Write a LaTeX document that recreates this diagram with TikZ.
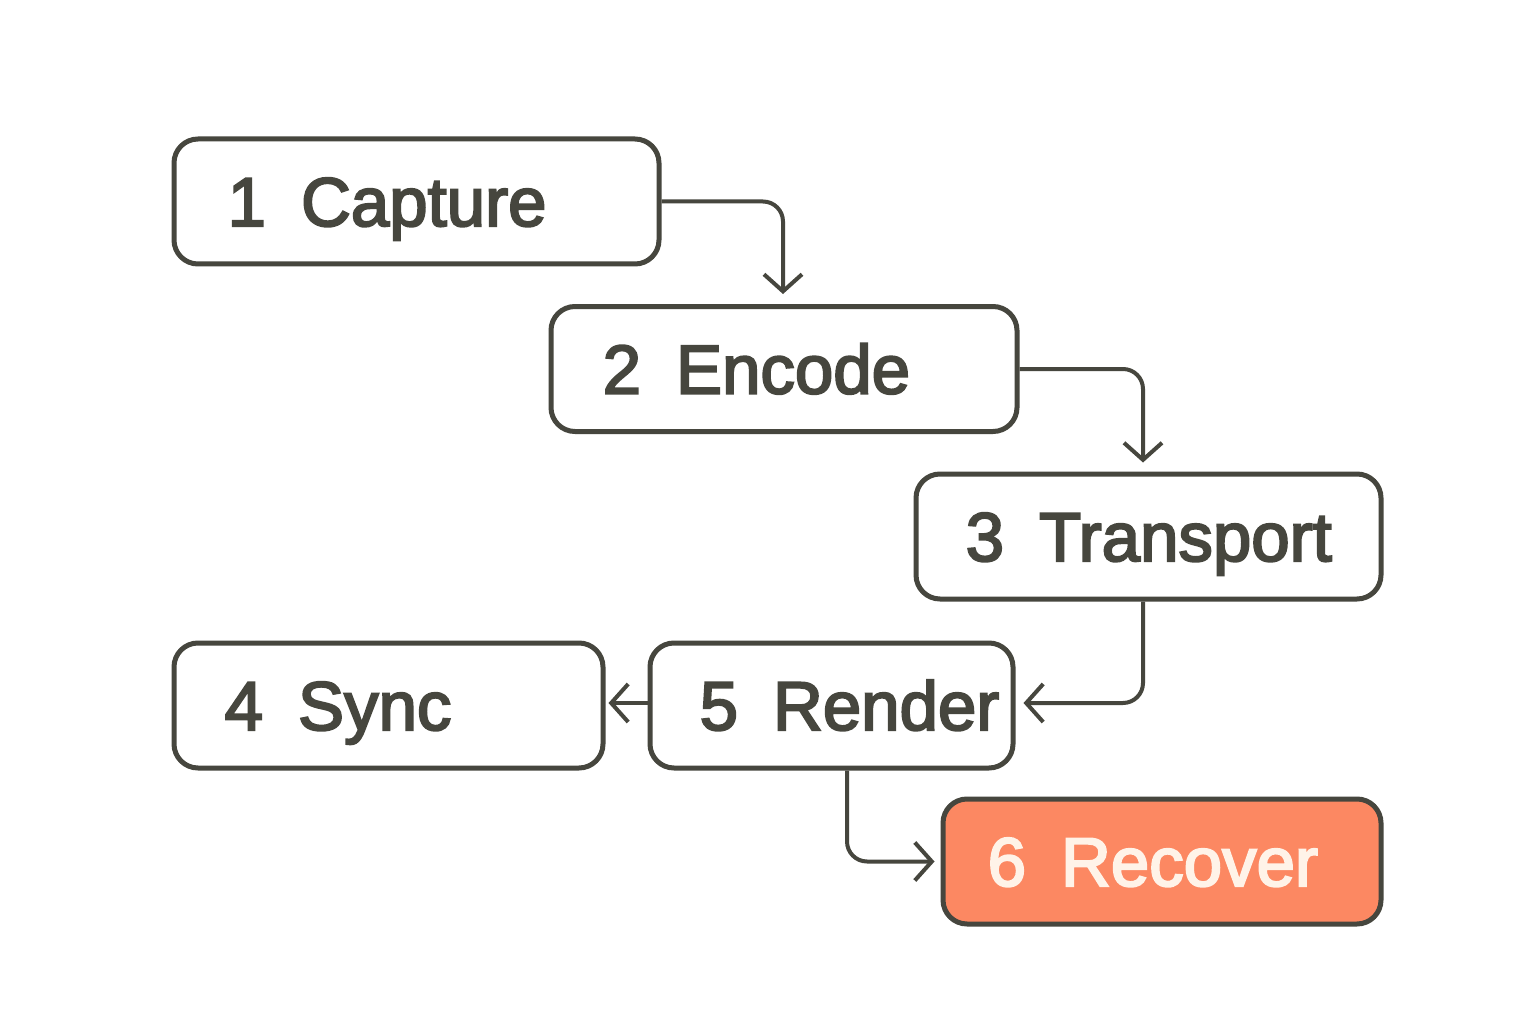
\documentclass[tikz,border=0pt]{standalone}
\usepackage{fontspec}
\newfontfamily\labfont[FakeBold=3]{Liberation Sans}
\usetikzlibrary{arrows.meta}
\definecolor{ink}{HTML}{46463E}
\definecolor{coral}{HTML}{FC8862}
\definecolor{cream}{HTML}{FFF3E8}
\tikzset{
  box/.style={draw=ink, line width=5pt, rounded corners=24pt, fill=white, minimum height=125pt, inner sep=0pt},
  hot/.style={box, fill=coral},
  lab/.style={anchor=west, inner sep=0pt, text height=49pt, text depth=0pt, text=ink, font=\labfont\fontsize{69}{80}\selectfont},
  hotlab/.style={lab, text=cream},
  conn/.style={draw=ink, line width=4pt, rounded corners=20pt, -{Straight Barb[length=17pt,width=38pt,line width=4pt]}}
}
\newcommand{\numgap}{\hspace{35pt}}
\begin{document}
\begin{tikzpicture}[x=1pt,y=-1pt]
\useasboundingbox[fill=white] (0,0) rectangle (1536,1024);
\node[box, minimum width=485pt] (n1) at (416.5,201.5) {};
\node[box, minimum width=466pt] (n2) at (784,369) {};
\node[box, minimum width=465pt] (n3) at (1148.5,536.5) {};
\node[box, minimum width=429pt] (n4) at (388.5,705.5) {};
\node[box, minimum width=363pt] (n5) at (831.5,705.5) {};
\node[hot, minimum width=438pt] (n6) at (1162,861.5) {};
\node[lab] (t1) at ([xshift=56pt]n1.west) {1\numgap Capture};
\node[lab] (t2) at ([xshift=54pt]n2.west) {2\numgap Encode};
\node[lab] (t3) at ([xshift=52pt]n3.west) {3\numgap Transport};
\node[lab] (t4) at ([xshift=53pt]n4.west) {4\numgap Sync};
\node[lab] (t5) at ([xshift=52pt]n5.west) {5\numgap Render};
\node[hotlab] (t6) at ([xshift=47pt]n6.west) {6\numgap Recover};
\draw[conn, shorten >=10pt] (n1.east) -| ([xshift=-1pt]n2.north);
\draw[conn, shorten >=9pt] (n2.east) -| ([xshift=-5.5pt]n3.north);
\draw[conn, shorten >=8pt] ([xshift=-5.5pt]n3.south) |- ([yshift=2.5pt]n5.east);
\draw[conn, shorten >=3pt] ([yshift=2.5pt]n5.west) -- ([yshift=2.5pt]n4.east);
\draw[conn, shorten >=6pt] ([xshift=15.5pt]n5.south) |- (n6.west);
\end{tikzpicture}
\end{document}
